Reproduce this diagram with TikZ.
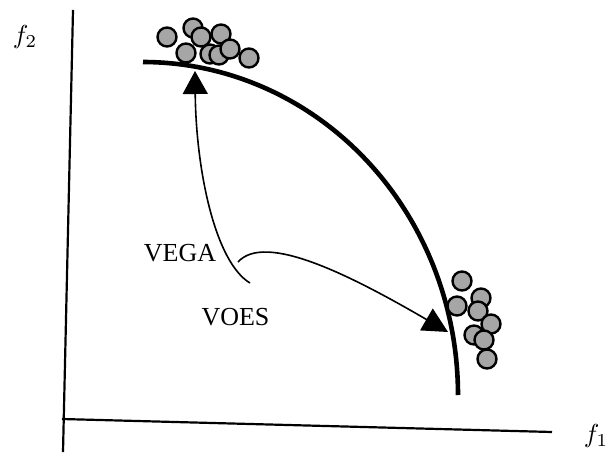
\documentclass[tikz,border=0pt]{standalone}
\usepackage{fontspec}
\setmainfont{Liberation Serif}
\usetikzlibrary{arrows.meta}
\begin{document}
\begin{tikzpicture}[x=1pt,y=-1pt,
  ball/.style={circle,draw=black,line width=2.4pt,fill=black!35,minimum size=19pt,inner sep=0pt},
  axisline/.style={line width=2.2pt},
  frontline/.style={line width=4.6pt},
  lbl/.style={font=\fontsize{26}{30}\selectfont},
  trarrow/.style={-{Triangle[length=23pt,width=25pt]}, line width=1.6pt},
  trarrowb/.style={-{Triangle[length=25pt,width=25pt]}, line width=1.6pt}]
\useasboundingbox (0,0) rectangle (607,452);
% axes
\coordinate (yt) at (73,10);
\coordinate (yb) at (63,452);
\coordinate (xl) at (62,419);
\coordinate (xr) at (552,432);
\draw[axisline] (yt) -- (yb);
\draw[axisline] (xl) -- (xr);
\node (f2) at (25,37) {\scalebox{2.6}{$f_2$}};
\node (f1) at (596,436) {\scalebox{2.6}{$f_1$}};
% front
\draw[frontline] plot[domain=90:0,samples=80,smooth] ({143+315*cos(\x)},{395-333*sin(\x)});
% balls top
\node[ball] (a1) at (167,37) {};
\node[ball] (a2) at (193,28) {};
\node[ball] (a3) at (201,37) {};
\node[ball] (a4) at (221,34) {};
\node[ball] (a9) at (249,58) {};
\node[ball] (a6) at (210,54) {};
\node[ball] (a7) at (219,55) {};
\node[ball] (a8) at (230,49) {};
\node[ball] (a5) at (186,53) {};
% balls right
\node[ball] (b1) at (462,281) {};
\node[ball] (b2) at (481,298) {};
\node[ball] (b3) at (457,306) {};
\node[ball] (b4) at (478,311) {};
\node[ball] (b5) at (491,324) {};
\node[ball] (b6) at (474,335) {};
\node[ball] (b7) at (484,340) {};
\node[ball] (b8) at (487,359) {};
% labels
\node[lbl] (vega) at (180,253) {VEGA};
\node[lbl] (voes) at (235.5,317) {VOES};
% arrows
\coordinate (s1) at (250,283);
\coordinate (t1) at (195,71);
\coordinate (s2) at (238,262);
\coordinate (t2) at (448,332);
\draw[trarrow] (s1) .. controls (215,262) and (196,170) .. (t1);
\draw[trarrowb] (s2) .. controls (265,232) and (350,275) .. (t2);
\end{tikzpicture}
\end{document}
